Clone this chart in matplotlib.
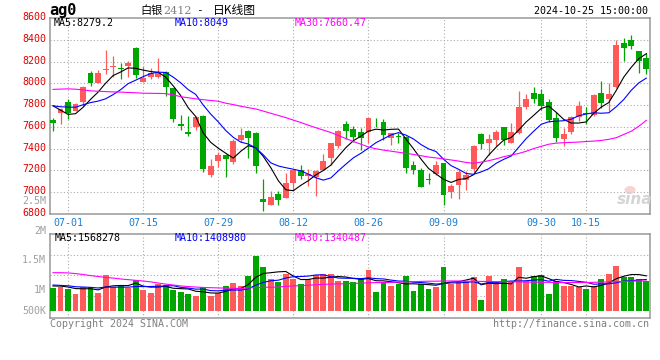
import numpy as np
import pandas as pd
import matplotlib
matplotlib.use('Agg')
import matplotlib.pyplot as plt
import matplotlib.transforms as mtransforms
from matplotlib.lines import Line2D
from matplotlib.patches import Ellipse

plt.rcParams['font.family'] = ['DejaVu Sans Mono', 'Noto Sans CJK SC']

# trading days 06-27 .. 10-25 (exchange holidays removed)
holidays = ['2024-09-16', '2024-09-17', '2024-10-01', '2024-10-02',
            '2024-10-03', '2024-10-04', '2024-10-07']
dates = [d.strftime('%m-%d') for d in pd.bdate_range('2024-06-27', '2024-10-25')
         if d.strftime('%Y-%m-%d') not in holidays]
date_ticks = ['07-01', '07-15', '07-29', '08-12', '08-26', '09-09', '09-30', '10-15']

opens = [7662, 7724, 7825, 7748, 7828, 8100, 8001, 8128, 8155, 8145,
         8163, 8328, 8015, 8055, 8058, 8105, 7955, 7625, 7552, 7600,
         7700, 7156, 7285, 7340, 7273, 7478, 7561, 7546, 6935, 6880,
         6978, 6947, 7085, 7205, 7145, 7141, 7202, 7316, 7426, 7625,
         7576, 7549, 7549, 7655, 7641, 7500, 7512, 7509, 7248, 7205,
         7120, 7165, 7263, 7003, 7064, 7108, 7211, 7533, 7454, 7480,
         7598, 7454, 7540, 7785, 7910, 7900, 7828, 7680, 7488, 7550,
         7693, 7725, 7710, 7910, 7853, 7970, 8370, 8400, 8298, 8230]
highs = [7678, 7770, 7856, 7820, 7975, 8112, 8120, 8305, 8255, 8190,
         8210, 8335, 8160, 8140, 8235, 8110, 7960, 7708, 7700, 7700,
         7708, 7303, 7371, 7348, 7487, 7586, 7570, 7550, 7119, 7012,
         7009, 7171, 7205, 7248, 7208, 7200, 7350, 7455, 7570, 7653,
         7607, 7586, 7680, 7684, 7675, 7545, 7540, 7515, 7285, 7220,
         7171, 7288, 7265, 7070, 7202, 7190, 7432, 7540, 7530, 7570,
         7600, 7635, 7930, 7902, 7965, 7950, 7860, 7733, 7586, 7700,
         7837, 7779, 7900, 8021, 8000, 8399, 8414, 8445, 8300, 8276]
lows = [7564, 7626, 7672, 7742, 7790, 7978, 8000, 8090, 8060, 8037,
        8060, 8052, 8012, 8045, 8050, 7880, 7645, 7570, 7518, 7570,
        7187, 7134, 7233, 7135, 7254, 7463, 7316, 7177, 6825, 6878,
        6880, 6942, 7009, 7120, 7055, 6963, 7200, 7250, 7402, 7490,
        7463, 7390, 7454, 7601, 7478, 7432, 7455, 7175, 7165, 7045,
        7073, 7155, 6880, 6947, 6935, 7018, 7187, 7400, 7340, 7426,
        7432, 7450, 7535, 7764, 7816, 7755, 7648, 7465, 7426, 7530,
        7653, 7622, 7700, 7770, 7745, 7960, 8205, 8315, 8092, 8083]
closes = [7632, 7761, 7727, 7810, 7968, 8000, 8095, 8135, 8165, 8130,
          8190, 8077, 8052, 8100, 8095, 7970, 7672, 7608, 7535, 7693,
          7211, 7239, 7340, 7302, 7469, 7524, 7500, 7242, 6904, 6950,
          6926, 7079, 7202, 7150, 7165, 7190, 7285, 7448, 7561, 7561,
          7509, 7494, 7678, 7650, 7524, 7540, 7505, 7218, 7202, 7050,
          7112, 7248, 6972, 7058, 7185, 7156, 7426, 7440, 7487, 7555,
          7478, 7549, 7782, 7860, 7860, 7795, 7662, 7494, 7532, 7693,
          7794, 7715, 7893, 7816, 7902, 8353, 8330, 8345, 8210, 8132]
# closes before 06-27, needed for the first MA5 / MA10 points
pre_close = [7850, 7760, 7820, 7740, 7800, 7961, 7922, 7780, 7675]
ma30 = [7945, 7948, 7950, 7947, 7940, 7932, 7928, 7925, 7922, 7920,
        7917, 7914, 7910, 7909, 7908, 7906, 7895, 7878, 7868, 7858,
        7850, 7843, 7836, 7818, 7805, 7790, 7777, 7765, 7745, 7725,
        7705, 7685, 7662, 7640, 7615, 7592, 7570, 7548, 7520, 7492,
        7465, 7440, 7415, 7398, 7386, 7376, 7366, 7356, 7346, 7334,
        7322, 7314, 7305, 7295, 7285, 7272, 7265, 7275, 7288, 7305,
        7325, 7340, 7355, 7375, 7400, 7420, 7440, 7450, 7454, 7457,
        7460, 7465, 7469, 7475, 7485, 7500, 7530, 7560, 7605, 7660]

volumes = [1040000, 1085000, 975000, 770000, 1085000, 1060000, 820000, 1607000, 1050000, 1160000,
           1030000, 1375000, 940000, 820000, 1190000, 1180000, 950000, 850000, 750000, 685000,
           1057000, 685000, 825000, 1120000, 1265000, 1120000, 1570000, 2460000, 1970000, 1430000,
           1310000, 1650000, 1440000, 1190000, 1450000, 1620000, 1640000, 1650000, 1340000, 1330000,
           1300000, 1460000, 1820000, 850000, 1300000, 1110000, 1220000, 1560000, 880000, 1220000,
           1000000, 1090000, 1980000, 1190000, 1290000, 1360000, 1500000, 510000, 1550000, 1190000,
           1450000, 1360000, 1980000, 1330000, 1550000, 1620000, 750000, 1330000, 1110000, 1110000,
           1070000, 970000, 1120000, 1440000, 1650000, 2030000, 1520000, 1500000, 1440000, 1350000]
pre_vol = [1250000, 1150000, 1200000, 1220000, 1200000, 1100000, 1180000, 1120000, 1138000]
vol_ma30 = [1710000, 1710000, 1700000, 1670000, 1630000, 1580000, 1540000, 1500000, 1470000, 1430000,
            1400000, 1370000, 1340000, 1300000, 1250000, 1200000, 1160000, 1120000, 1090000, 1070000,
            1050000, 1040000, 1030000, 1020000, 1010000, 1010000, 1030000, 1050000, 1060000, 1060000,
            1070000, 1100000, 1120000, 1130000, 1150000, 1170000, 1190000, 1200000, 1210000, 1220000,
            1230000, 1240000, 1260000, 1270000, 1270000, 1280000, 1290000, 1300000, 1310000, 1320000,
            1330000, 1330000, 1340000, 1340000, 1340000, 1330000, 1330000, 1320000, 1320000, 1310000,
            1310000, 1300000, 1300000, 1290000, 1290000, 1280000, 1280000, 1270000, 1270000, 1270000,
            1270000, 1270000, 1280000, 1290000, 1300000, 1310000, 1320000, 1330000, 1340000, 1340000]

price_ticks = [6800, 7000, 7200, 7400, 7600, 7800, 8000, 8200, 8400, 8600]

RED = '#ff5a5a'
GREEN = '#00a600'
GRID = '#aaaaaa'
BORDER = '#999999'

W, H = 660, 360


def box(l, t, r, b):
    return [l / W, 1 - b / H, (r - l) / W, (b - t) / H]


def ftext(x, y, s, **kw):
    kw.setdefault('va', 'center')
    kw.setdefault('fontsize', 7.2)
    fig.text(x / W, 1 - y / H, s, **kw)


x = np.arange(len(closes))
o = np.array(opens, float)
c = np.array(closes, float)
colors = np.where(c >= o, RED, GREEN)

close_ext = pd.Series(pre_close + closes, dtype=float)
ma5 = close_ext.rolling(5).mean().values[len(pre_close):]
ma10 = close_ext.rolling(10).mean().values[len(pre_close):]
vol_ext = pd.Series(pre_vol + volumes, dtype=float)
vma5 = vol_ext.rolling(5).mean().values[len(pre_vol):]
vma10 = vol_ext.rolling(10).mean().values[len(pre_vol):]

fig = plt.figure(figsize=(6.6, 3.6), dpi=100)
ax = fig.add_axes(box(50, 18.3, 650.3, 213.7))
axv = fig.add_axes(box(50, 234.3, 650.3, 318.3), sharex=ax)

# candles
ax.vlines(x, lows, highs, colors=colors, lw=0.9, zorder=2)
body = np.maximum(np.abs(c - o), 8)
ax.bar(x, body, bottom=np.minimum(o, c), width=0.78, color=colors, lw=0, zorder=3)
ax.plot(x, ma5, color='black', lw=0.8, zorder=4)
ax.plot(x, ma10, color='#0000ff', lw=0.8, zorder=4)
ax.plot(x, ma30, color='#ff00ff', lw=0.8, zorder=4)
ax.set_ylim(6800, 8600)
ax.set_xlim(-0.4, 79.53)

# volume
axv.bar(x, volumes, width=0.78, color=colors, lw=0, zorder=3)
axv.plot(x, vma5, color='black', lw=0.8, zorder=4)
axv.plot(x, vma10, color='#0000ff', lw=0.8, zorder=4)
axv.plot(x, vol_ma30, color='#ff00ff', lw=0.8, zorder=4)
axv.set_ylim(-326000, 3424000)

tick_idx = [dates.index(d) for d in date_ticks]
dot = (0, (1, 2))
for a in (ax, axv):
    for sp in a.spines.values():
        sp.set_color(BORDER)
        sp.set_linewidth(1.1)
    for t in tick_idx:
        a.axvline(t, color=GRID, lw=0.8, ls=dot, zorder=1)
    a.tick_params(length=0)

for p in price_ticks[1:-1]:
    ax.axhline(p, color=GRID, lw=0.8, ls=dot, zorder=1)
for f in (0.269, 0.512, 0.754):
    axv.add_line(Line2D([0, 1], [f, f], transform=axv.transAxes,
                        color=GRID, lw=0.8, ls=dot, zorder=1))

ax.set_yticks(price_ticks)
ax.set_yticklabels([str(p) for p in price_ticks], color='#e00000', fontsize=7.2)
ax.tick_params(axis='y', pad=2.9)
shift = mtransforms.ScaledTranslation(0, 0.02, fig.dpi_scale_trans)
for lab in ax.get_yticklabels():
    lab.set_transform(lab.get_transform() + shift)

ax.set_xticks(tick_idx)
ax.set_xticklabels(date_ticks, color='#1a7fd4', fontsize=7.2)
ax.tick_params(axis='x', pad=3)
axv.tick_params(labelbottom=False, labelleft=False)

# volume scale labels
for s, y in [('2.5M', 200.9), ('2M', 230.7), ('1.5M', 260.3), ('1M', 290), ('500K', 311)]:
    ftext(46, y, s, ha='right', color='#a0a0a0')

# header
ftext(49, 10.5, 'ag0', fontsize=11, fontweight='bold', color='black')
ftext(140, 10.5, '白银', fontsize=8, family='Noto Sans CJK SC', color='black')
ftext(163, 10.5, '2412', fontsize=8, family='DejaVu Serif', color='#808080')
ftext(196, 10.5, '-', fontsize=8, color='black')
ftext(213, 10.5, '日K线图', fontsize=8.5, family='Noto Sans CJK SC', color='black')
ftext(648, 11.5, '2024-10-25 15:00:00', ha='right', color='black')

# MA readouts
ftext(54, 23.3, 'MA5:8279.2', color='black')
ftext(175, 23.3, 'MA10:8049', color='#0000ff')
ftext(295, 23.3, 'MA30:7660.47', color='#ff00ff')
ftext(54.7, 238.3, 'MA5:1568278', color='black')
ftext(175, 238.3, 'MA10:1408980', color='#0000ff')
ftext(295, 238.3, 'MA30:1340487', color='#ff00ff')

# footer
ftext(50, 323.7, 'Copyright 2024 SINA.COM', color='#808080')
ftext(649, 323.7, 'http://finance.sina.com.cn', ha='right', color='#808080')

# watermark
fig.patches.append(Ellipse((630 / W, 1 - 190 / H), 11 / W, 8 / H, transform=fig.transFigure,
                           facecolor='#f6c8c8', edgecolor='none', alpha=0.8))
ftext(635, 200, 'sina', ha='center', fontsize=11, fontweight='bold', style='italic',
      family='DejaVu Sans', color='#d4d4d4')

fig.savefig('out.png', dpi=100)
